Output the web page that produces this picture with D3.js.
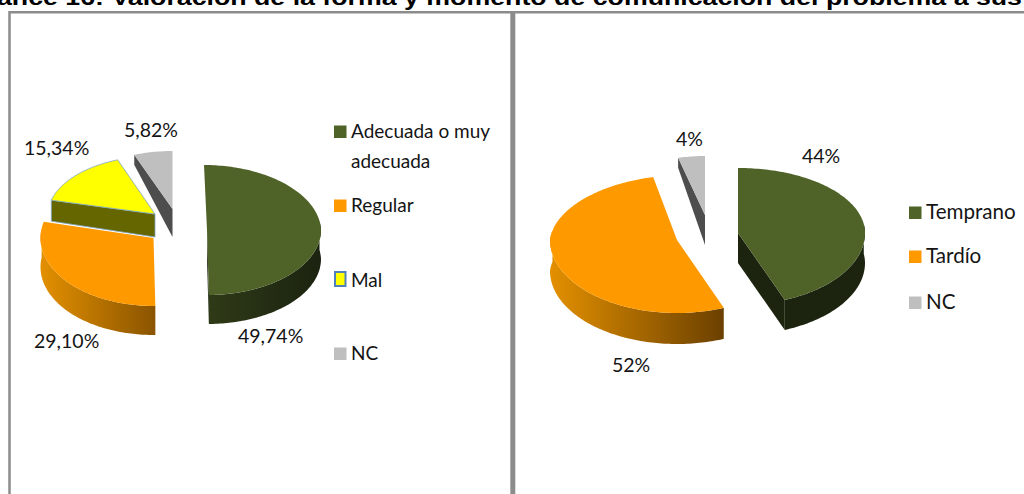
<!DOCTYPE html>
<html><head><meta charset="utf-8">
<script src="https://cdn.jsdelivr.net/npm/d3@7"></script>
<style>html,body{margin:0;background:#fff;overflow:hidden}svg{display:block}
text{font-family:Lato,Carlito,sans-serif;fill:#141414}</style></head><body>
<svg id="c" width="1024" height="494"></svg>
<script>
const titleText = "ance 16: Valoración de la forma y momento de comunicación del problema a sus";
const categoriesA = ["Adecuada o muy adecuada","Regular","Mal","NC"];
const valuesA = [49.74,29.10,15.34,5.82];
const labelsA = ["49,74%","29,10%","15,34%","5,82%"];
const categoriesB = ["Temprano","Tardío","NC"];
const valuesB = [44,52,4];
const labelsB = ["44%","52%","4%"];

const svg = d3.select("#c");
const defs = svg.append("defs");

// slice layout: centre of each exploded slice, radii (back / front), wall depth
const geomA = [
 {cx:207,cy:230,rx:114,ryB:65,ryF:65,leanB:-3,d:29,wall:["#2f3a17","#1b2310"],top:"#4f6228",cut:"#1c2410"},
 {cx:153.5,cy:238,rx:113,ryB:68,ryF:68,leanB:0,d:29,wall:["#e39000","#8a5400"],top:"#ff9900"},
 {cx:155,cy:214,rx:107,ryB:58,ryF:58,leanB:1,d:20,wall:["#666600","#666600"],top:"#ffff00",cut:null,stroke:"#7fa6c9",front:true},
 {cx:172.5,cy:209,rx:107,ryB:58,ryF:58,leanB:0,d:28,far:10,top:"#bfbfbf",cut:"#4d4d4d",farCut:true}
];
const geomB = [
 {cx:738,cy:233,rx:127,ryB:65,ryF:72,leanB:0,d:30,wall:["#1c2410","#1c2410"],top:"#4f6228",cut:"#1c2410"},
 {cx:677,cy:240,rx:127,ryB:65,ryF:73,leanB:8,d:31,wall:["#e39000","#6b4000"],top:"#ff9900"},
 {cx:705,cy:215,rx:108,ryB:59,ryF:59,leanB:0,d:30,far:10,top:"#bfbfbf",cut:"#4d4d4d",farCut:true}
];
const labelPosA = [[238,343],[34,348],[24,155],[124,137]];
const labelPosB = [[802,163],[612,372],[676,146]];

let gid = 0;
function drawPie(values, geom){
  const arcs = d3.pie().sort(null).value(v=>v)(values);
  const g = svg.append("g");
  const pt = (s,a,dy=0)=>{
    const c=Math.cos(a), ry=c>0?s.ryB:s.ryF;
    return [s.cx+s.rx*Math.sin(a)+(c>0?s.leanB*c:0), s.cy-ry*c+dy];
  };
  const line = d3.line();
  arcs.forEach((p,i)=>{
    const s = geom[i];
    const n = Math.max(2,Math.ceil((p.endAngle-p.startAngle)/0.02));
    const as = d3.range(n+1).map(k=>p.startAngle+(p.endAngle-p.startAngle)*k/n);
    const sg = g.append("g");
    if(s.farCut){
      const a=p.startAngle;
      sg.append("path").attr("fill",s.cut).attr("d",line([[s.cx,s.cy],[s.cx,s.cy+s.d],pt(s,a,s.far),pt(s,a)])+"Z");
    } else if(s.cut){
      const a=p.endAngle;
      sg.append("path").attr("fill",s.cut).attr("d",line([[s.cx,s.cy],[s.cx,s.cy+s.d],pt(s,a,s.d),pt(s,a)])+"Z");
    }
    if(s.wall && !s.front){
      const front = as.filter(a=>a>Math.PI*0.5-0.15 && a<Math.PI*1.5+0.15);
      if(front.length>1){
        const id="w"+(gid++);
        const xs=front.map(a=>pt(s,a)[0]);
        const lg=defs.append("linearGradient").attr("id",id).attr("gradientUnits","userSpaceOnUse")
          .attr("x1",d3.min(xs)).attr("x2",d3.max(xs)).attr("y1",0).attr("y2",0);
        lg.append("stop").attr("offset",0).attr("stop-color",s.wall[0]);
        lg.append("stop").attr("offset",1).attr("stop-color",s.wall[1]);
        const pts=front.map(a=>pt(s,a)).concat(front.slice().reverse().map(a=>pt(s,a,s.d)));
        sg.append("path").attr("fill",`url(#${id})`).attr("d",line(pts)+"Z");
      }
    }
    if(s.front){
      const a=p.startAngle;
      sg.append("path").attr("fill",s.wall[0]).attr("stroke",s.stroke).attr("stroke-width",0.8)
        .attr("d",line([pt(s,a),[s.cx,s.cy],[s.cx,s.cy+s.d+3],pt(s,a,s.d+1)])+"Z");
    }
    const top=[[s.cx,s.cy]].concat(as.map(a=>pt(s,a)));
    sg.append("path").attr("fill",s.top).attr("stroke",s.stroke||"none").attr("stroke-width",s.stroke?0.8:0).attr("d",line(top)+"Z");
  });
  return g;
}
function drawLabels(labels,pos){
  labels.forEach((t,i)=>svg.append("text").attr("x",pos[i][0]).attr("y",pos[i][1]).attr("font-size",19.5).text(t));
}
function legend(x, rows, colors, strokes, fs){
  rows.forEach((r,i)=>{
    const sw=svg.append("rect").attr("x",x).attr("y",r.y-12.5).attr("width",12.5).attr("height",12.5).attr("fill",colors[i]);
    if(strokes&&strokes[i]) sw.attr("stroke",strokes[i]).attr("stroke-width",2).attr("x",x+1).attr("y",r.y-15).attr("width",10.5).attr("height",14);
    r.lines.forEach((l,j)=>svg.append("text").attr("x",x+17).attr("y",r.y+j*30).attr("font-size",fs).text(l));
  });
}
// panel frames
const frame="#8c8c8c";
svg.append("path").attr("fill","none").attr("stroke",frame).attr("stroke-width",2.5)
  .attr("d","M9.5,494V12.2H1024");
svg.append("line").attr("x1",512.8).attr("x2",512.8).attr("y1",11).attr("y2",494).attr("stroke",frame).attr("stroke-width",5);
// title
svg.append("text").attr("x",-3).attr("y",5).attr("font-size",22).attr("textLength",1025).attr("lengthAdjust","spacingAndGlyphs")
  .style("font-family","'Liberation Sans',Arial,sans-serif").style("font-weight","700").style("fill","#000").text(titleText);

drawPie(valuesA,geomA);
drawPie(valuesB,geomB);
drawLabels(labelsA,labelPosA);
drawLabels(labelsB,labelPosB);
legend(334,[{y:138,lines:["Adecuada o muy","adecuada"]},{y:212,lines:["Regular"]},{y:287,lines:["Mal"]},{y:360,lines:["NC"]}],
  ["#4f6228","#ff9900","#ffff00","#bfbfbf"],[null,null,"#4f81bd",null],19);
legend(909,[{y:219,lines:["Temprano"]},{y:263,lines:["Tardío"]},{y:309,lines:["NC"]}],["#4f6228","#ff9900","#bfbfbf"],null,20.6);
</script></body></html>
